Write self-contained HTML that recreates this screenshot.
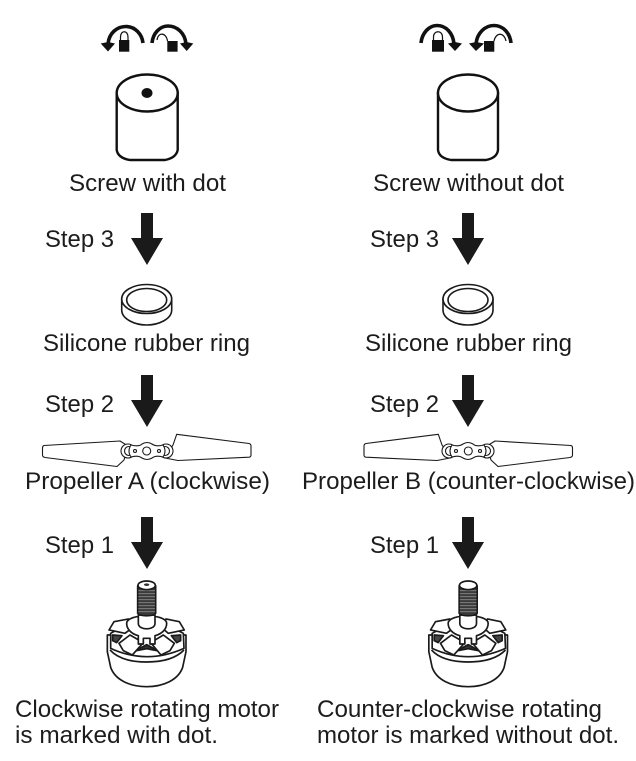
<!DOCTYPE html>
<html><head><meta charset="utf-8"><style>
html,body{margin:0;padding:0;background:#fff}
svg{display:block}
text{font-family:"Liberation Sans",sans-serif;font-size:24px;fill:#1c1c1c}
</style></head><body>
<svg width="636" height="761" viewBox="0 0 636 761" xmlns="http://www.w3.org/2000/svg">
<defs>
<path id="ar" d="M-6 0H6V25H16L0 52L-16 25H-6Z" fill="#1a1a1a"/>
<g id="ring" fill="#fff" stroke="#1a1a1a" stroke-width="1.6">
<path d="M-25 0V11C-25 20 -12 26 0 26C12 26 25 20 25 11V0Z"/>
<ellipse cx="0" cy="0" rx="25" ry="14.500"/>
<ellipse cx="0" cy="1" rx="20" ry="11.500"/>
</g>
<g id="prop" fill="#fff" stroke="#1a1a1a" stroke-width="1.100" stroke-linejoin="round">
<path d="M120 441L44 445.500Q42.500 446 42.500 448V455Q42.500 457 45 457.500L117 466.500L124 460L128 446Z"/>
<path d="M176.700 434.300L249 443.500Q251 444 251 446V455Q251 457 249 457.200L178 460.500L165 458L173 445Z"/>
<circle cx="128" cy="451" r="7"/><circle cx="166" cy="451" r="7"/>
<circle cx="129" cy="451" r="4.500"/><circle cx="165" cy="451" r="4.500"/>
<path d="M131 445Q139 447 142 444Q147 441 152 444Q156 447 163 445Q167 451 163 457Q156 455 152 458Q147 461 142 458Q138 455 131 457Q127 451 131 445Z"/>
<circle cx="146.700" cy="451" r="4"/><circle cx="135" cy="451" r="1.500"/><circle cx="159" cy="451" r="1.500"/>
</g>
<g id="motor" stroke="#1a1a1a" stroke-width="5" fill="#fff" stroke-linejoin="round">
<path d="M52 195V245L62 292C75 330 120 350 170 350C220 350 265 330 278 292L288 245V195Z"/>
<path d="M60 240C85 268 125 276 170 276C215 276 255 268 282 240" fill="none"/>
<path d="M62 190Q170 130 280 190L282 235Q170 285 62 235Z"/>
<path d="M68 195L96 197L80 218L68 212Z" fill="#444"/>
<path d="M272 195L244 197L260 218L272 212Z" fill="#444"/>
<path d="M135 243L170 224L205 243L170 236Z" fill="#333"/>
<path d="M57 180L72 155L115 147L125 175L105 190Z"/>
<path d="M283 180L268 155L228 147L218 175L235 190Z"/>
<path d="M87 220L120 195L160 218L127 255L100 242Z"/>
<path d="M253 220L220 195L182 218L213 255L240 242Z"/>
<path d="M110 160C110 130 230 130 230 160C230 178 215 192 195 197V222H180V205H160V222H145V197C125 192 110 178 110 160Z"/>
<path d="M145 135V160C145 182 195 182 195 160V135Z"/>
<path d="M143 50C143 30 197 30 197 50V130C190 140 150 140 143 130Z" fill="#3a3a3a"/>
<path d="M145 62H195M145 71H195M145 80H195M145 89H195M145 98H195M145 107H195M145 116H195M145 125H195" stroke="#8a8a8a" stroke-width="2.500"/>
<ellipse cx="170" cy="46" rx="26" ry="13"/>
</g>
</defs>

<!-- rotation icons -->
<g fill="none" stroke="#111" stroke-width="3.600">
<path d="M108 44C109 33 117 26.500 126 26.500C135 26.500 142 34 143 43"/>
<path d="M152 43C153 33 160 26 168 26C177 26 185 33 186 44"/>
<path d="M421 43C422 33 429 25.500 437 25.500C446 25.500 453 33 454 44"/>
<path d="M476 44C477 33 485 25.500 494 25.500C503 25.500 510 33 511 43"/>
</g>
<g fill="#111">
<path d="M100.700 43.500L108 42L115 43.500L108 51.500Z"/><rect x="119" y="40" width="10.300" height="11.700"/>
<path d="M180 43.500L186.700 42L193.300 43.500L186.700 51Z"/><rect x="167.300" y="41" width="10.300" height="10.700"/>
<path d="M448 43.500L455 42L462 43.500L455 51Z"/><rect x="432" y="40" width="12" height="11.700"/>
<path d="M469 43.500L476 42L484 43.500L476 51Z"/><rect x="484" y="41" width="10.300" height="10.700"/>
</g>
<g fill="none" stroke="#111" stroke-width="1.200">
<path d="M120.500 40V37C120.500 30 128 30 128 37V40"/>
<path d="M157 40C158 32 166 32 167.500 41"/>
<path d="M433.500 40V37C433.500 30 442.500 30 442.500 37V40"/>
<path d="M494 41C496 32 504 32 506 41"/>
</g>

<!-- cylinders -->
<g fill="#fff" stroke="#111" stroke-width="2.400">
<path d="M116.700 93V150Q118 158 130 160H165Q176 158 177.700 150V93Z"/>
<ellipse cx="147.200" cy="93" rx="30.500" ry="18.500"/>
<path d="M438 93V150Q439 158 451 160H486Q497 158 498 150V93Z"/>
<ellipse cx="468" cy="93" rx="30" ry="18.500"/>
</g>
<ellipse cx="147" cy="93" rx="5.500" ry="5" fill="#111"/>

<!-- arrows -->
<use href="#ar" x="147" y="213"/><use href="#ar" x="147" y="375"/><use href="#ar" x="147" y="517"/>
<use href="#ar" x="468" y="213"/><use href="#ar" x="468" y="375"/><use href="#ar" x="468" y="517"/>

<use href="#ring" x="146.700" y="299"/>
<use href="#ring" x="468" y="299"/>

<use href="#prop"/>
<g transform="translate(615 0) scale(-1 1)"><use href="#prop"/></g>

<g transform="translate(90 570) scale(.3333)"><use href="#motor"/><ellipse cx="170" cy="44" rx="8" ry="4" fill="#333"/></g>
<g transform="translate(411.500 570) scale(.3333)"><use href="#motor"/></g>

<g lengthAdjust="spacingAndGlyphs">
<text x="69" y="191" textLength="157" lengthAdjust="spacingAndGlyphs">Screw with dot</text>
<text x="373" y="191" textLength="191" lengthAdjust="spacingAndGlyphs">Screw without dot</text>
<text x="45" y="247" textLength="69" lengthAdjust="spacingAndGlyphs">Step 3</text>
<text x="370" y="247" textLength="69" lengthAdjust="spacingAndGlyphs">Step 3</text>
<text x="43" y="351" textLength="207" lengthAdjust="spacingAndGlyphs">Silicone rubber ring</text>
<text x="365" y="351" textLength="207" lengthAdjust="spacingAndGlyphs">Silicone rubber ring</text>
<text x="45" y="412" textLength="69" lengthAdjust="spacingAndGlyphs">Step 2</text>
<text x="370" y="412" textLength="69" lengthAdjust="spacingAndGlyphs">Step 2</text>
<text x="25" y="489" textLength="245" lengthAdjust="spacingAndGlyphs">Propeller A (clockwise)</text>
<text x="302" y="489" textLength="333" lengthAdjust="spacingAndGlyphs">Propeller B (counter-clockwise)</text>
<text x="45" y="553" textLength="69" lengthAdjust="spacingAndGlyphs">Step 1</text>
<text x="370" y="553" textLength="69" lengthAdjust="spacingAndGlyphs">Step 1</text>
<text x="15" y="717" textLength="264" lengthAdjust="spacingAndGlyphs">Clockwise rotating motor</text>
<text x="15" y="743" textLength="203" lengthAdjust="spacingAndGlyphs">is marked with dot.</text>
<text x="317" y="717" textLength="285" lengthAdjust="spacingAndGlyphs">Counter-clockwise rotating</text>
<text x="317" y="743" textLength="302" lengthAdjust="spacingAndGlyphs">motor is marked without dot.</text>
</g>
</svg>
</body></html>
